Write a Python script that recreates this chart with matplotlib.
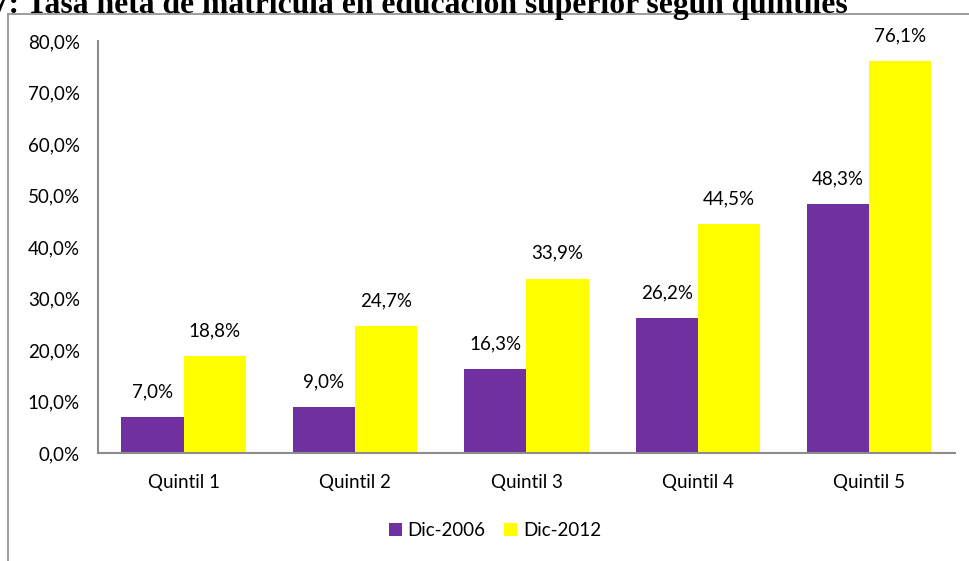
import numpy as np
import matplotlib
matplotlib.use('Agg')
import matplotlib.pyplot as plt
from matplotlib.lines import Line2D

plt.rcParams['font.family'] = ['Lato', 'DejaVu Sans']

# data
quintiles = ['Quintil 1', 'Quintil 2', 'Quintil 3', 'Quintil 4', 'Quintil 5']
dic_2006 = [7.0, 9.0, 16.3, 26.2, 48.3]
dic_2012 = [18.8, 24.7, 33.9, 44.5, 76.1]
series_names = ['Dic-2006', 'Dic-2012']
yticks = [0, 10, 20, 30, 40, 50, 60, 70, 80]

purple = '#7030A0'
yellow = '#FFFF00'
axis_gray = '#8C8C8C'
fs = 13.5

fig = plt.figure(figsize=(9.7, 5.61), dpi=100)
ax = fig.add_axes([0.101, 0.1925, 0.8835, 0.734])

x = np.arange(len(quintiles))
w = 0.363
b1 = ax.bar(x - w / 2, dic_2006, w, color=purple, label=series_names[0])
b2 = ax.bar(x + w / 2, dic_2012, w, color=yellow, label=series_names[1])

for bars in (b1, b2):
    for rect in bars:
        h = rect.get_height()
        ax.annotate(f'{h:.1f}%'.replace('.', ','),
                    (rect.get_x() + rect.get_width() / 2, h),
                    xytext=(0, 12), textcoords='offset points',
                    ha='center', va='bottom', fontsize=fs, color='black')

ax.set_xlim(-0.5, len(quintiles) - 0.5)
ax.set_ylim(0, 80)
ax.set_yticks(yticks)
ax.set_yticklabels([f'{v:.1f}%'.replace('.', ',') for v in yticks])
ax.set_xticks(x)
ax.set_xticklabels(quintiles)
ax.tick_params(axis='both', length=0, labelsize=fs)
ax.tick_params(axis='y', pad=13)
ax.tick_params(axis='x', pad=15)

for side in ('top', 'right'):
    ax.spines[side].set_visible(False)
for side in ('left', 'bottom'):
    ax.spines[side].set_color(axis_gray)
    ax.spines[side].set_linewidth(1.5)

fig.legend(handles=[b1, b2], loc='center', bbox_to_anchor=(0.51, 0.055),
           ncol=2, frameon=False, fontsize=fs, handlelength=0.7,
           handleheight=0.7, handletextpad=0.3, columnspacing=1.0)

# outer chart frame (partially visible)
fig.add_artist(Line2D([0.0085, 0.0085], [0, 0.975], color=axis_gray, lw=1.2))
fig.add_artist(Line2D([0.0085, 1.0], [0.975, 0.975], color=axis_gray, lw=1.2))

# title, cut at the top of the image as in the source page
fig.text(0.874, 0.977, 'Gráfico 7: Tasa neta de matrícula en educación superior según quintiles',
         ha='right', va='baseline', fontsize=22.8, fontweight='bold',
         family='Liberation Serif')

fig.savefig('out.png', dpi=100)
